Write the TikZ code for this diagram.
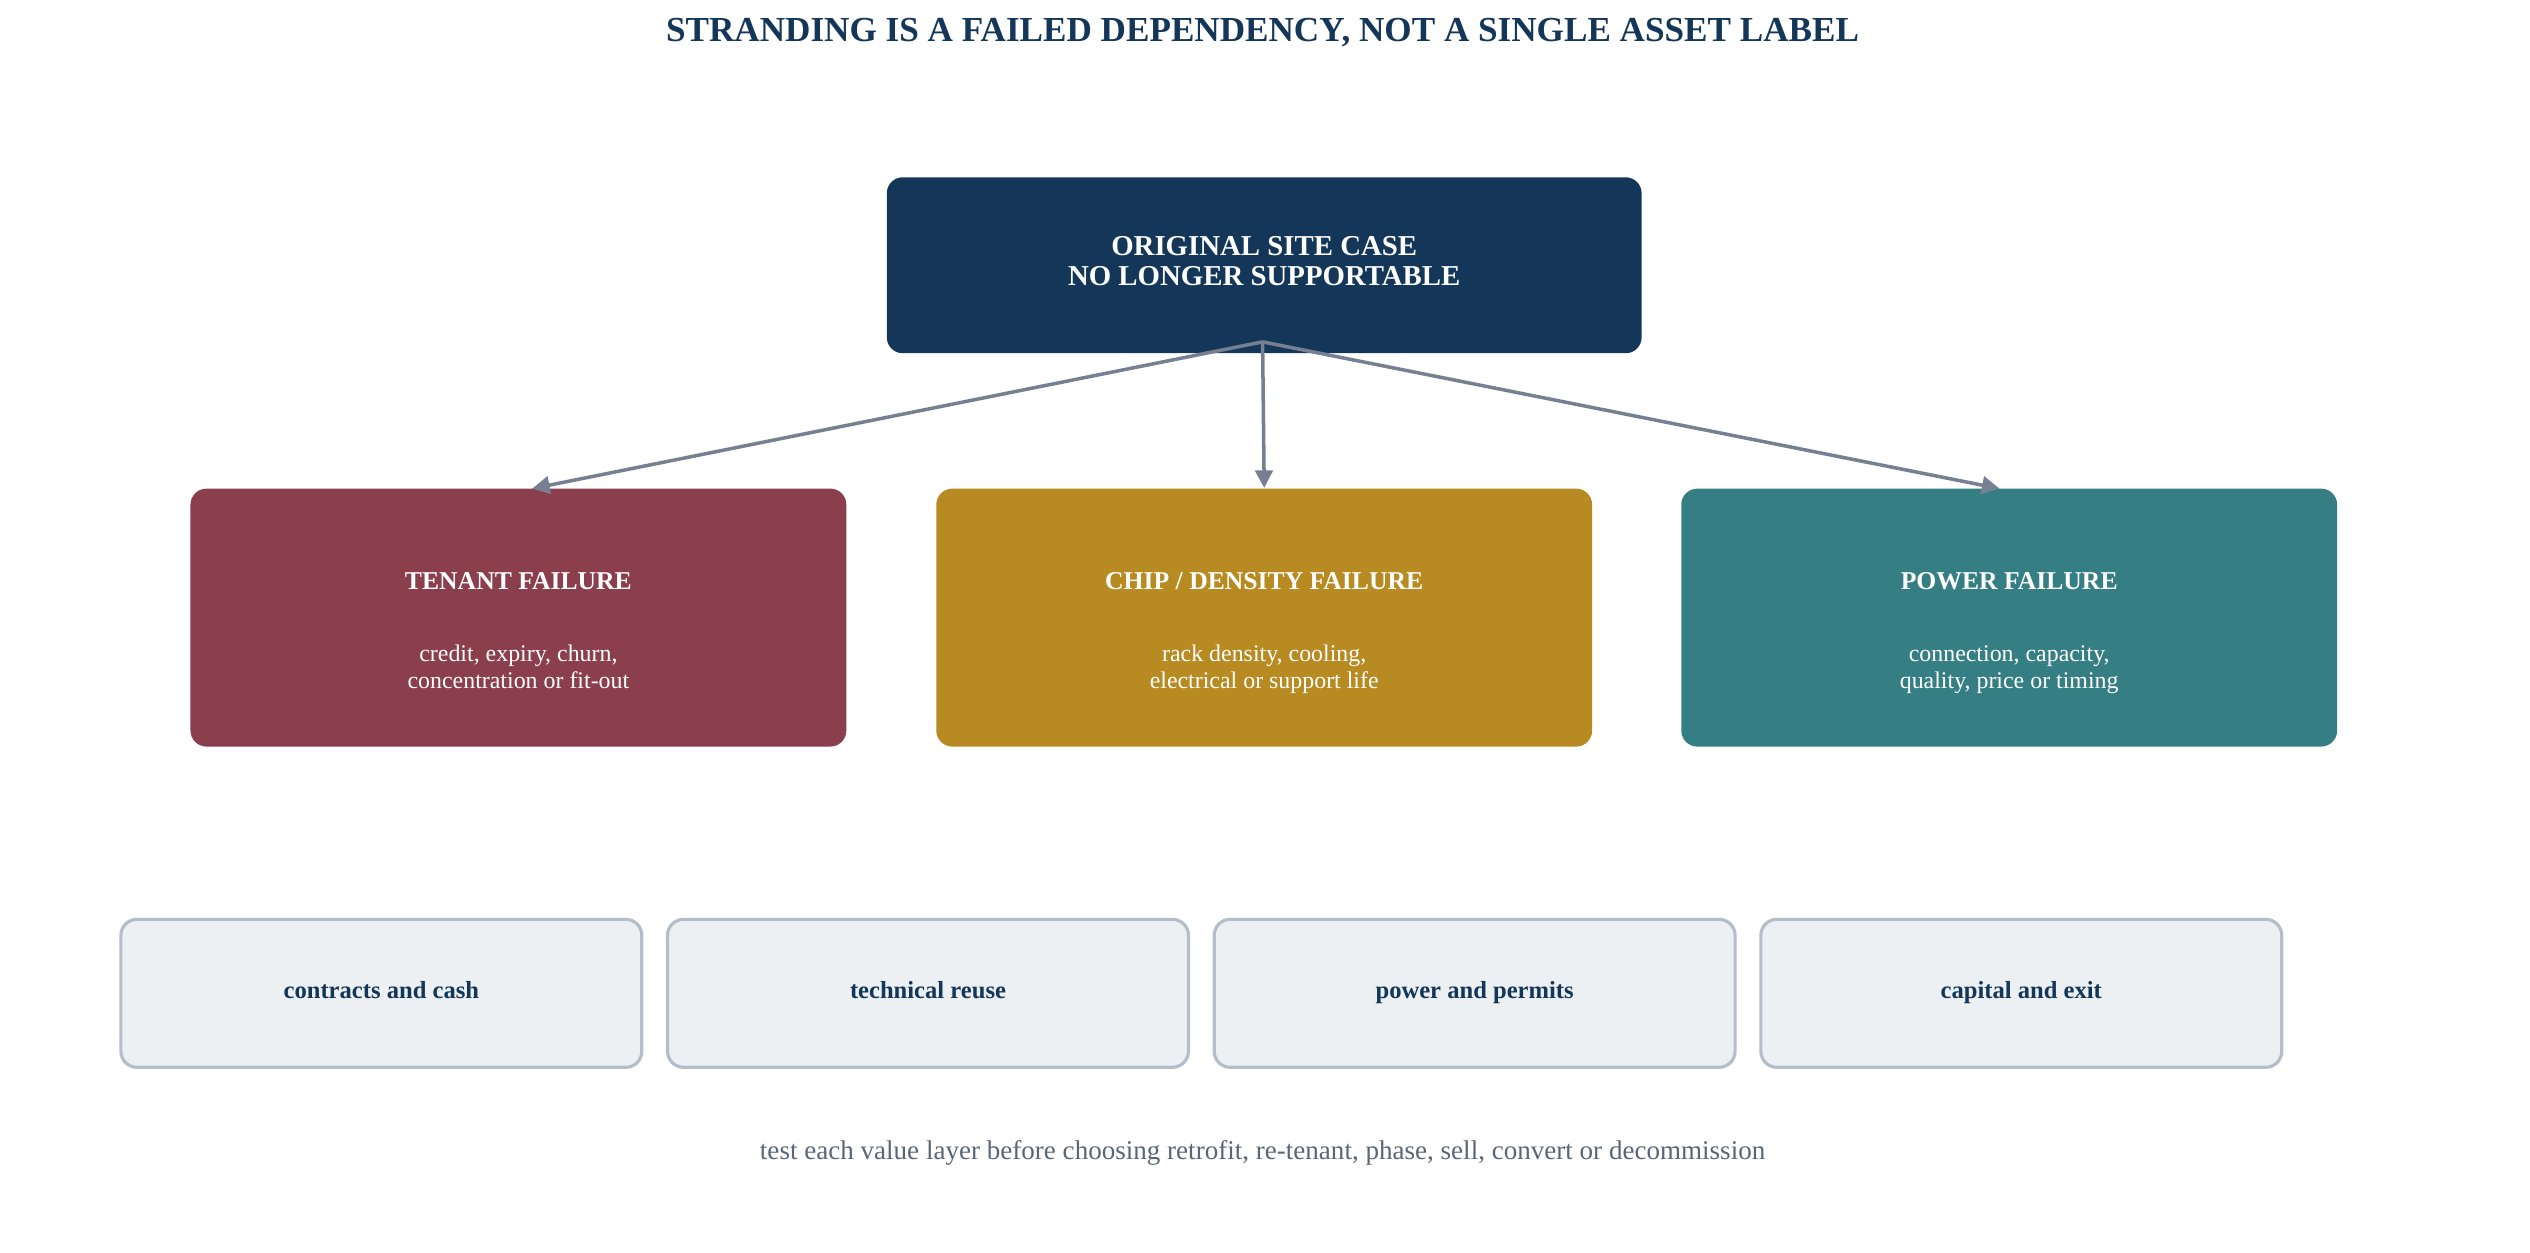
\documentclass[tikz,border=0pt]{standalone}
\usepackage{fontspec}
\setmainfont{Liberation Serif}
\usetikzlibrary{arrows.meta,positioning}
\definecolor{navy}{HTML}{133659}
\definecolor{wine}{HTML}{8B3E4C}
\definecolor{ochre}{HTML}{B88A22}
\definecolor{teal}{HTML}{357E83}
\definecolor{pale}{HTML}{ECF0F3}
\definecolor{paleline}{HTML}{B4BECA}
\definecolor{arrowgray}{HTML}{778092}
\definecolor{footgray}{HTML}{5A6578}
\tikzset{
  failbox/.style={rounded corners=0.16cm,minimum width=6.56cm,minimum height=2.58cm},
  failtext/.style={text=white,align=center,font=\fontsize{6.8}{7.6}\selectfont,yshift=-0.17cm},
  layerbox/.style={draw=paleline,line width=0.9pt,fill=pale,rounded corners=0.16cm,
    minimum width=5.21cm,minimum height=1.48cm,text=navy,font=\bfseries\fontsize{7}{8}\selectfont},
  link/.style={draw=arrowgray,line width=1pt,-{Triangle[length=5pt,width=5pt]}}
}
\begin{document}
\begin{tikzpicture}[x=0.016125cm,y=-0.016125cm]
  \useasboundingbox (0,0) rectangle (1569,777);
  \node[text=navy,font=\bfseries\fontsize{10}{11}\selectfont] (title) at (783,20)
    {STRANDING IS A FAILED DEPENDENCY, NOT A SINGLE ASSET LABEL};
%
  \node[fill=navy,rounded corners=0.16cm,minimum width=7.55cm,minimum height=1.76cm,
    text=white,align=center,font=\bfseries\fontsize{8.2}{8.6}\selectfont] (case) at (784,164.5)
    {ORIGINAL SITE CASE\\NO LONGER SUPPORTABLE\strut};
  \coordinate (src) at (783,212);
%
  \node[failbox,fill=wine] (tenant) at (321.5,383) {};
  \node[failbox,fill=ochre] (chip) at (784,383) {};
  \node[failbox,fill=teal] (power) at (1246,383) {};
  \node[failtext] (tenanttext) at (tenant)
    {\textbf{\fontsize{7.3}{9}\selectfont TENANT FAILURE}\\[13pt]credit, expiry, churn,\\concentration or fit-out\strut};
  \node[failtext] (chiptext) at (chip)
    {\textbf{\fontsize{7.3}{9}\selectfont CHIP / DENSITY FAILURE}\\[13pt]rack density, cooling,\\electrical or support life\strut};
  \node[failtext] (powertext) at (power)
    {\textbf{\fontsize{7.3}{9}\selectfont POWER FAILURE}\\[13pt]connection, capacity,\\quality, price or timing\strut};
%
  \coordinate (tenanttop) at (330,303);
  \coordinate (powertop) at (1240,303);
  \draw[link] (src) -- (tenanttop);
  \draw[link] (src) -- (chip.north);
  \draw[link] (src) -- (powertop);
%
  \node[layerbox] (cash) at (236.5,616) {contracts and cash\strut};
  \node[layerbox] (reuse) at (575.5,616) {technical reuse\strut};
  \node[layerbox] (permits) at (914.5,616) {power and permits\strut};
  \node[layerbox] (exit) at (1253.5,616) {capital and exit\strut};
%
  \node[text=footgray,font=\fontsize{7.7}{9}\selectfont] (footer) at (783,715)
    {test each value layer before choosing retrofit, re-tenant, phase, sell, convert or decommission};
\end{tikzpicture}
\end{document}
